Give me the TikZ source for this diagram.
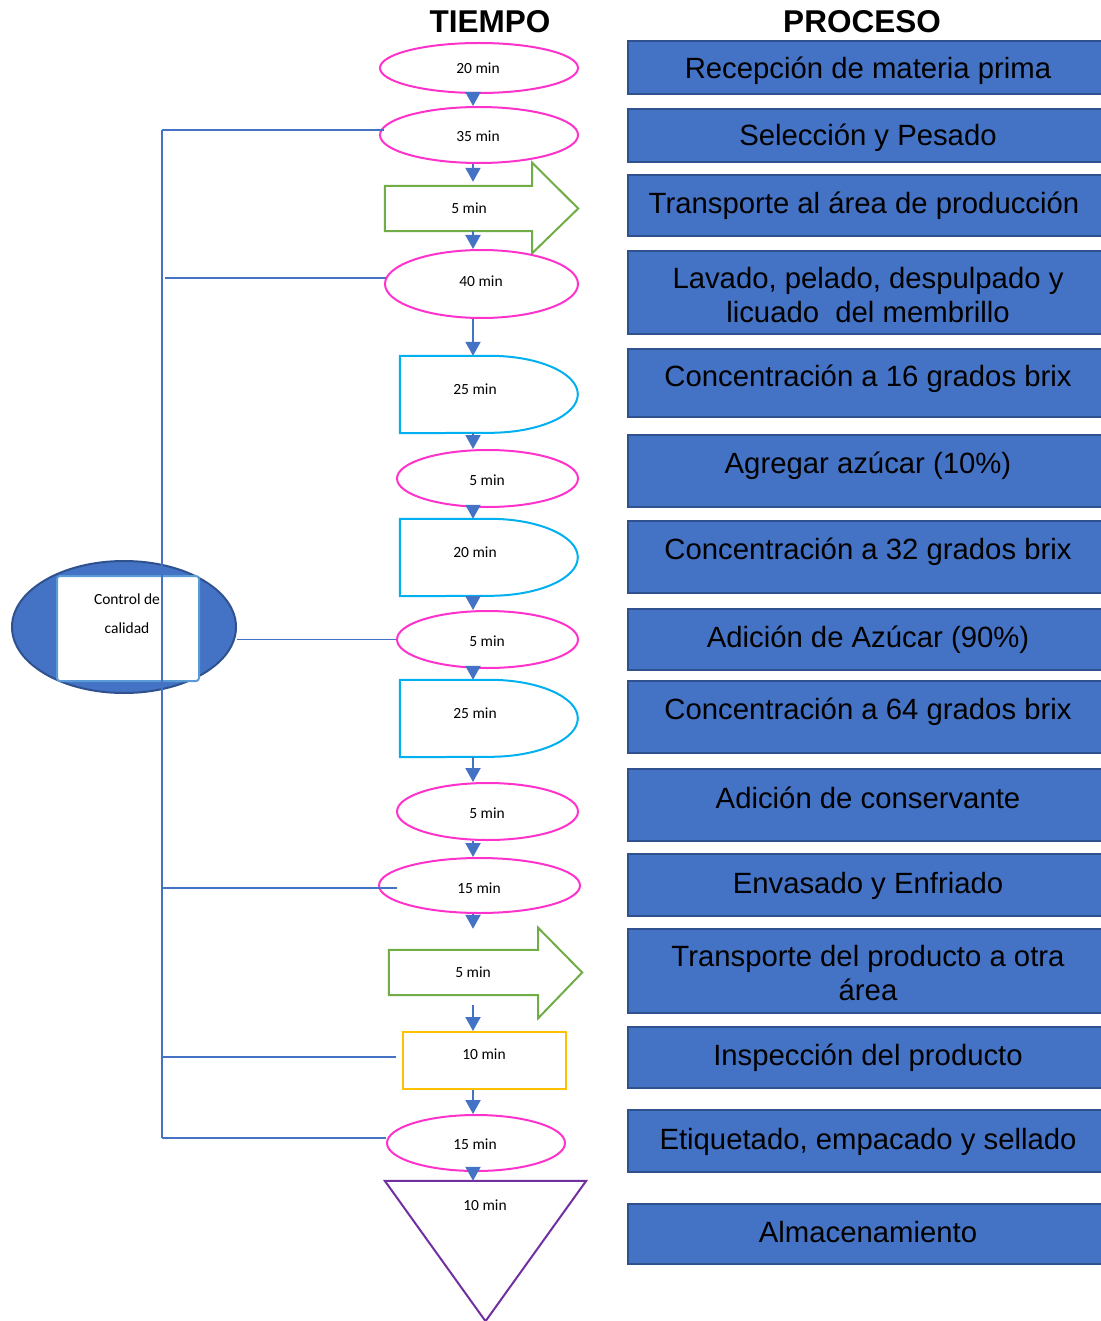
\documentclass[tikz,border=0pt]{standalone}
\usepackage{fontspec}
\setmainfont{Liberation Sans}
\newfontfamily\carlfont{Carlito}
\usetikzlibrary{shapes.geometric,arrows.meta,calc}
\definecolor{pinkc}{HTML}{FF33CC}
\definecolor{cyanc}{HTML}{00B0F0}
\definecolor{greenc}{HTML}{70AD47}
\definecolor{orangec}{HTML}{FFC000}
\definecolor{purplec}{HTML}{7030A0}
\definecolor{bluef}{HTML}{4472C4}
\definecolor{blued}{HTML}{2F528F}
\definecolor{bluel}{HTML}{5B9BD5}
\begin{document}
\begin{tikzpicture}[x=1pt,y=1pt,
  pbox/.style={draw=blued,fill=bluef,line width=2pt,rectangle,anchor=north west,inner sep=0,minimum width=480},
  ptext/.style={font=\fontsize{29.3}{34}\selectfont,align=center,text=black,inner sep=0,yshift=-3pt},
  op/.style={ellipse,draw=pinkc,line width=2pt,inner sep=0},
  ghost/.style={rectangle,inner sep=0,draw=none},
  tl/.style={font=\carlfont\fontsize{15.5}{18}\selectfont,inner sep=0},
  conn/.style={draw=bluef,line width=2pt,-{Triangle[width=15pt,length=14pt]}},
  bus/.style={draw=bluef,line width=1.2pt},
  hdr/.style={font=\bfseries\fontsize{31.5}{36}\selectfont,inner sep=0},
  delayline/.style={draw=cyanc,line width=2pt,fill=white},
  arrline/.style={draw=greenc,line width=2pt,fill=white,line join=miter}
]
\useasboundingbox[fill=white] (0,0) rectangle (1100,-1321);

% headers
\node[hdr] (h1) at (490,-22) {TIEMPO};
\node[hdr] (h2) at (862,-22) {PROCESO};

% process boxes
\node[pbox,minimum height=53] (p1) at (627,-40) {};
\node[pbox,minimum height=53] (p2) at (627,-108) {};
\node[pbox,minimum height=61] (p3) at (627,-174) {};
\node[pbox,minimum height=83] (p4) at (627,-250) {};
\node[pbox,minimum height=68] (p5) at (627,-348) {};
\node[pbox,minimum height=72] (p6) at (627,-434) {};
\node[pbox,minimum height=72] (p7) at (627,-520) {};
\node[pbox,minimum height=61] (p8) at (627,-608) {};
\node[pbox,minimum height=72] (p9) at (627,-680) {};
\node[pbox,minimum height=72] (p10) at (627,-768) {};
\node[pbox,minimum height=62] (p11) at (627,-853) {};
\node[pbox,minimum height=84] (p12) at (627,-928) {};
\node[pbox,minimum height=61] (p13) at (627,-1026) {};
\node[pbox,minimum height=62] (p14) at (627,-1109) {};
\node[pbox,minimum height=60] (p15) at (627,-1203) {};

\node[ptext] (q1) at (868,-68) {Recepción de materia prima};
\node[ptext] (q2) at (868,-135) {Selección y Pesado};
\node[ptext] (q3) at (864,-203) {Transporte al área de producción};
\node[ptext] (q4) at (868,-292) {Lavado, pelado, despulpado y\\licuado\ \ del membrillo};
\node[ptext] (q5) at (868,-376) {Concentración a 16 grados brix};
\node[ptext] (q6) at (868,-463) {Agregar azúcar (10\%)};
\node[ptext] (q7) at (868,-549) {Concentración a 32 grados brix};
\node[ptext] (q8) at (868,-637) {Adición de Azúcar (90\%)};
\node[ptext] (q9) at (868,-709) {Concentración a 64 grados brix};
\node[ptext] (q10) at (868,-795) {Adición de conservante};
\node[ptext] (q11) at (868,-883) {Envasado y Enfriado};
\node[ptext] (q12) at (868,-970) {Transporte del producto a otra\\área};
\node[ptext] (q13) at (868,-1055) {Inspección del producto};
\node[ptext] (q14) at (868,-1139) {Etiquetado, empacado y sellado};
\node[ptext] (q15) at (868,-1229) {Almacenamiento};

% control de calidad
\node[ellipse,draw=blued,fill=bluef,line width=2pt,minimum width=224,minimum height=132,inner sep=0] (ctrl) at (124,-627) {};
\node[rectangle,draw=bluel,fill=white,line width=2pt,rounded corners=3,minimum width=142,minimum height=105,inner sep=0] (cbox) at (128,-628.5) {};
\node[tl] (c1) at (127,-599) {Control de};
\node[tl] (c2) at (127,-628) {calidad};

% left column shapes
\node[op,minimum width=198,minimum height=50] (e1) at (479,-68) {};
\node[op,minimum width=198,minimum height=56] (e2) at (479,-135) {};
\node[ghost,minimum width=147,minimum height=45] (a3) at (458.5,-208.5) {};
\draw[arrline] (a3.north west) -- (a3.north east) -- ($(a3.north east)+(0,23)$) -- ($(a3.east)+(46,0)$) -- ($(a3.south east)+(0,-22)$) -- (a3.south east) -- (a3.south west) -- cycle;
\node[op,minimum width=193,minimum height=68] (e4) at (481.5,-284) {};
\node[ghost,minimum width=178,minimum height=77] (d5) at (489,-394.5) {};
\draw[delayline] (d5.north west) -- ($(d5.north west)+(90,0)$) arc[start angle=90,end angle=-90,x radius=88,y radius=38.5] -- (d5.south west) -- cycle;
\node[op,minimum width=181,minimum height=57] (e6) at (487.5,-478.5) {};
\node[ghost,minimum width=178,minimum height=77] (d7) at (489,-557.5) {};
\draw[delayline] (d7.north west) -- ($(d7.north west)+(90,0)$) arc[start angle=90,end angle=-90,x radius=88,y radius=38.5] -- (d7.south west) -- cycle;
\node[op,minimum width=181,minimum height=57] (e8) at (487.5,-639.5) {};
\node[ghost,minimum width=178,minimum height=77] (d9) at (489,-718.5) {};
\draw[delayline] (d9.north west) -- ($(d9.north west)+(90,0)$) arc[start angle=90,end angle=-90,x radius=88,y radius=38.5] -- (d9.south west) -- cycle;
\node[op,minimum width=181,minimum height=57] (e10) at (487.5,-811.5) {};
\node[op,minimum width=201,minimum height=55] (e11) at (479.5,-885.5) {};
\node[ghost,minimum width=149,minimum height=45] (a12) at (463.5,-972.5) {};
\draw[arrline] (a12.north west) -- (a12.north east) -- ($(a12.north east)+(0,22)$) -- ($(a12.east)+(44,0)$) -- ($(a12.south east)+(0,-23)$) -- (a12.south east) -- (a12.south west) -- cycle;
\node[rectangle,draw=orangec,line width=2pt,minimum width=163,minimum height=57,inner sep=0] (r13) at (484.5,-1060.5) {};
\node[op,minimum width=178,minimum height=56] (e14) at (476,-1143) {};
\node[ghost,minimum width=201,minimum height=140] (t15) at (485.5,-1251) {};
\draw[draw=purplec,line width=2pt,line join=miter] (t15.north west) -- (t15.north east) -- (t15.south) -- cycle;

% time labels
\node[tl] (l1) at (478,-68) {20 min};
\node[tl] (l2) at (478,-136) {35 min};
\node[tl] (l3) at (469,-208) {5 min};
\node[tl] (l4) at (481,-281) {40 min};
\node[tl] (l5) at (475,-389) {25 min};
\node[tl] (l6) at (487,-480) {5 min};
\node[tl] (l7) at (475,-552) {20 min};
\node[tl] (l8) at (487,-641) {5 min};
\node[tl] (l9) at (475,-713) {25 min};
\node[tl] (l10) at (487,-813) {5 min};
\node[tl] (l11) at (479,-888) {15 min};
\node[tl] (l12) at (473,-972) {5 min};
\node[tl] (l13) at (484,-1054) {10 min};
\node[tl] (l14) at (475,-1144) {15 min};
\node[tl] (l15) at (485,-1205) {10 min};

% flow connectors
\coordinate (col) at (473,0);
\draw[conn] (e1.south -| col) -- (e2.north -| col);
\draw[conn] (e2.south -| col) -- ($(a3.north -| col)+(0,4)$);
\draw[conn] (a3.south -| col) -- (e4.north -| col);
\draw[conn] (e4.south -| col) -- (d5.north -| col);
\draw[conn] (d5.south -| col) -- (e6.north -| col);
\draw[conn] (e6.south -| col) -- (d7.north -| col);
\draw[conn] (d7.south -| col) -- (e8.north -| col);
\draw[conn] (e8.south -| col) -- (d9.north -| col);
\draw[conn] (d9.south -| col) -- (e10.north -| col);
\draw[conn] (e10.south -| col) -- (e11.north -| col);
\draw[conn,shorten >=21pt] (e11.south -| col) -- (a12.north -| col);
\draw[conn,shorten <=10pt] (a12.south -| col) -- (r13.north -| col);
\draw[conn] (r13.south -| col) -- (e14.north -| col);
\draw[conn] (e14.south -| col) -- (t15.north -| col);

% quality-control bus
\coordinate (b1) at (162,-130);
\coordinate (b2) at (162,-278);
\coordinate (b4) at (162,-888);
\coordinate (b5) at (162,-1057);
\coordinate (b6) at (162,-1138);
\draw[bus] (b1) -- (b6);
\draw[bus] (b1) -- ($(b1 -| e2.west)+(5,0)$);
\draw[bus] ($(b2)+(3,0)$) -- ($(b2 -| e4.west)+(2,0)$);
\draw[bus] (e8.west -| ctrl.east) -- (e8.west);
\draw[bus] (b4) -- ($(b4 -| e11.west)+(19,0)$);
\draw[bus] (b5) -- ($(b5 -| r13.west)+(-6,0)$);
\draw[bus] (b6) -- (b6 -| e14.west);
\end{tikzpicture}
\end{document}
